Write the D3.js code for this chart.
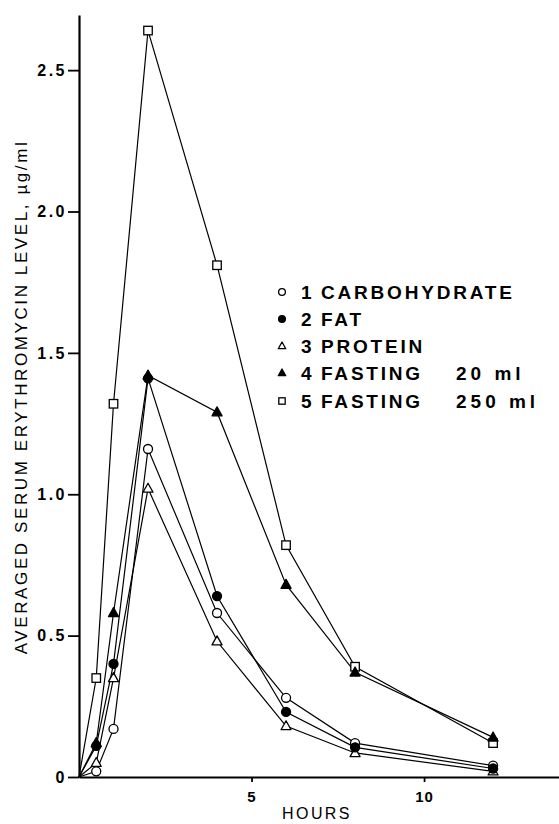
<!DOCTYPE html>
<html>
<head>
<meta charset="utf-8">
<script src="https://cdn.jsdelivr.net/npm/d3@7"></script>
<style>
  html, body { margin: 0; padding: 0; background: #fff; }
  svg { display: block; }
  text { font-family: "Liberation Sans", Arial, Helvetica, sans-serif; fill: #000; }
</style>
</head>
<body>
<svg id="chart" width="559" height="824"></svg>
<script>
// Sampling times (hours) after the dose
const hours = [0, 0.5, 1, 2, 4, 6, 8, 12];

// Averaged serum erythromycin level, µg/ml, per regimen
const carbohydrate = [0, 0.02, 0.17, 1.16, 0.58, 0.28, 0.12, 0.04];
const fat          = [0, 0.11, 0.40, 1.41, 0.64, 0.23, 0.105, 0.03];
const protein      = [0, 0.05, 0.35, 1.02, 0.48, 0.18, 0.085, 0.02];
const fasting20    = [0, 0.12, 0.58, 1.42, 1.29, 0.68, 0.37, 0.14];
const fasting250   = [0, 0.35, 1.32, 2.64, 1.81, 0.82, 0.39, 0.12];

// Legend entries: number, regimen, dose
const seriesNumbers = ["1", "2", "3", "4", "5"];
const seriesNames = ["CARBOHYDRATE", "FAT", "PROTEIN", "FASTING", "FASTING"];
const seriesDoses = ["", "", "", "20 ml", "250 ml"];
const seriesMarkers = ["openCircle", "filledCircle", "openTriangle", "filledTriangle", "openSquare"];
const seriesValues = [carbohydrate, fat, protein, fasting20, fasting250];

const yTicks = [0, 0.5, 1.0, 1.5, 2.0, 2.5];
const yTickLabels = ["0", "0.5", "1.0", "1.5", "2.0", "2.5"];
const xTicks = [5, 10];
const xTickLabels = ["5", "10"];

const svg = d3.select("#chart");

const x = d3.scaleLinear().domain([0, 13.91]).range([79, 559]);
const y = d3.scaleLinear().domain([0, 2.695]).range([777, 15]);

// Y axis
const yAxis = d3.axisLeft(y)
  .tickValues(yTicks)
  .tickFormat((d, i) => yTickLabels[i])
  .tickSize(11)
  .tickPadding(1)
  .tickSizeOuter(0);
const gy = svg.append("g").attr("transform", `translate(${x(0)},0)`).call(yAxis);
gy.select(".domain").attr("stroke", "#000").attr("stroke-width", 2.2);
gy.selectAll(".tick line").attr("stroke", "#000").attr("stroke-width", 1.8);
gy.selectAll(".tick text")
  .style("font-size", "16px").style("font-weight", "bold").style("letter-spacing", "2.5px");

// X axis
const xAxis = d3.axisBottom(x)
  .tickValues(xTicks)
  .tickFormat((d, i) => xTickLabels[i])
  .tickSize(5)
  .tickPadding(9)
  .tickSizeOuter(0);
const gx = svg.append("g").attr("transform", `translate(0,${y(0)})`).call(xAxis);
gx.select(".domain").attr("stroke", "#000").attr("stroke-width", 2.2);
gx.selectAll(".tick line").attr("stroke", "#000").attr("stroke-width", 1.8);
gx.selectAll(".tick text")
  .style("font-size", "15px").style("font-weight", "bold").style("letter-spacing", "1px");

// Axis titles
svg.append("text")
  .attr("x", 317).attr("y", 819)
  .attr("text-anchor", "middle")
  .style("font-size", "16px")
  .style("letter-spacing", "2.4px")
  .text("HOURS");

svg.append("text")
  .attr("transform", "translate(27,397) rotate(-90)")
  .attr("text-anchor", "middle")
  .style("font-size", "17px")
  .style("letter-spacing", "2.6px")
  .text("AVERAGED SERUM ERYTHROMYCIN LEVEL, \u00b5g/ml");

// Series lines
const line = d3.line().x((d, i) => x(hours[i])).y(d => y(d));
seriesValues.forEach(vals => {
  svg.append("path")
    .datum(vals)
    .attr("d", line)
    .attr("fill", "none")
    .attr("stroke", "#000")
    .attr("stroke-width", 1.2);
});

// Marker drawing
function drawMarker(g, type, cx, cy, scale) {
  const s = scale || 1;
  if (type === "openCircle" || type === "filledCircle") {
    g.append("circle").attr("cx", cx).attr("cy", cy).attr("r", 4.5 * s)
      .attr("fill", type === "filledCircle" ? "#000" : "#fff")
      .attr("stroke", "#000").attr("stroke-width", 1.3);
  } else if (type === "openTriangle" || type === "filledTriangle") {
    const h = 9 * s, w = 10 * s;
    g.append("path")
      .attr("d", `M${cx},${cy - h * 0.6}L${cx + w / 2},${cy + h * 0.4}L${cx - w / 2},${cy + h * 0.4}Z`)
      .attr("fill", type === "filledTriangle" ? "#000" : "#fff")
      .attr("stroke", "#000").attr("stroke-width", 1.3).attr("stroke-linejoin", "round");
  } else if (type === "openSquare") {
    const a = 8.5 * s;
    g.append("rect").attr("x", cx - a / 2).attr("y", cy - a / 2)
      .attr("width", a).attr("height", a)
      .attr("fill", "#fff").attr("stroke", "#000").attr("stroke-width", 1.3);
  }
}

// Markers: drawn so the fat circles sit on top at the shared peak
const drawOrder = [4, 3, 2, 0, 1];
const marks = svg.append("g");
drawOrder.forEach(si => {
  seriesValues[si].forEach((v, i) => {
    if (hours[i] === 0) return;
    drawMarker(marks, seriesMarkers[si], x(hours[i]), y(v));
  });
});

// Legend
const legend = svg.append("g");
const legendRowY = [292, 319, 346, 373, 401];
seriesNames.forEach((name, i) => {
  drawMarker(legend, seriesMarkers[i], 282, legendRowY[i], 0.75);
  const t = legend.append("text")
    .attr("y", legendRowY[i] + 7)
    .style("font-size", "19px").style("font-weight", "bold")
    .style("letter-spacing", "2.8px");
  t.append("tspan").attr("x", 301).text(seriesNumbers[i]);
  t.append("tspan").attr("x", 321).text(name);
  if (seriesDoses[i]) {
    t.append("tspan").attr("x", 456).style("letter-spacing", "4px").text(seriesDoses[i]);
  }
});
</script>
</body>
</html>
